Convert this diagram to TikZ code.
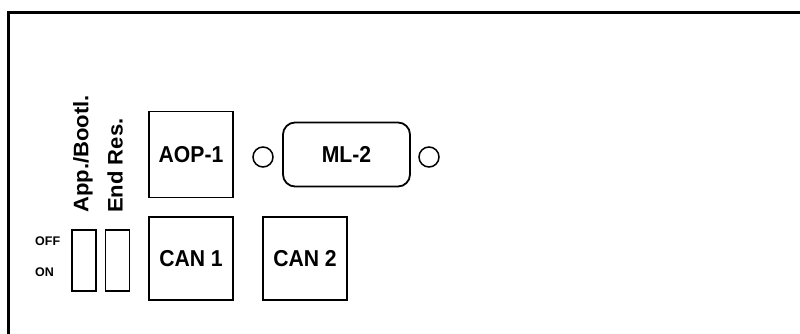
\documentclass[tikz,border=0pt]{standalone}
\usepackage{fontspec}
\setmainfont{Liberation Sans}
\usepackage{graphicx}
\newcommand{\cnd}[1]{\scalebox{0.92}[1]{#1}}
\begin{document}
\begin{tikzpicture}[x=1pt,y=-1pt,
  port/.style={draw,line width=1.8pt,minimum width=84pt,minimum height=86pt,inner sep=0pt,font=\fontsize{23}{23}\selectfont\bfseries},
  sw/.style={draw,line width=1.2pt,minimum width=24pt,minimum height=61pt,inner sep=0pt},
  led/.style={draw,line width=1.5pt,circle,minimum size=20pt,inner sep=0pt},
  rot/.style={rotate=90,inner sep=0pt,font=\fontsize{21}{21}\selectfont\bfseries},
  small/.style={inner sep=0pt,anchor=west,font=\fontsize{12.5}{12.5}\selectfont\bfseries}]
\useasboundingbox (0,0) rectangle (800,334);
\fill[white] (0,0) rectangle (800,334);
\draw[line width=3pt] (8.5,340) -- (8.5,12.5) -- (806,12.5);
\node[port] (aop) at (191,154.5) {\cnd{AOP-1}};
\node[port,minimum height=83pt] (can1) at (191,258.5) {\cnd{CAN 1}};
\node[port,minimum height=83pt] (can2) at (305,258.5) {\cnd{CAN 2}};
\node[port,minimum width=127pt,minimum height=64pt,rounded corners=12pt] (ml) at (346.5,154.5) {\cnd{ML-2}};
\node[led] (l1) at (263,157) {};
\node[led] (l2) at (429,157) {};
\node[sw] (s1) at (84,260.5) {};
\node[sw] (s2) at (117.5,260.5) {};
\node[rot,anchor=west,xscale=1.05] (t1) at (83,213) {App./Bootl.};
\node[rot,anchor=west,xscale=1.05] (t2) at (115,213) {End Res.};
\node[small] (off) at (35,241.5) {OFF};
\node[small] (on) at (35,272.5) {ON};
\end{tikzpicture}
\end{document}
